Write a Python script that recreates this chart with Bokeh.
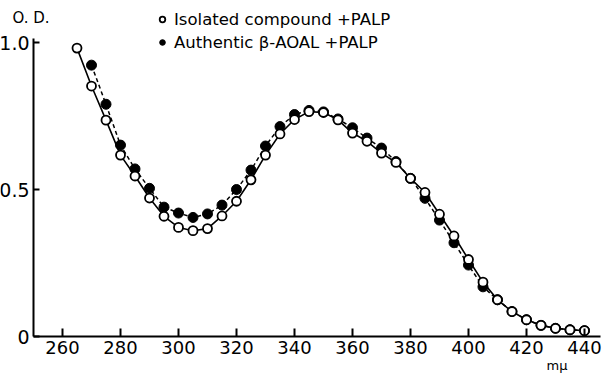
from bokeh.plotting import figure
from bokeh.models import Range1d, FixedTicker, Legend, LegendItem, Label
from bokeh.embed import file_html
from bokeh.resources import INLINE

# ---- data ----
wl_iso = list(range(265, 445, 5))
od_iso = [0.981, 0.852, 0.736, 0.617, 0.546, 0.471, 0.409, 0.371, 0.360, 0.367,
          0.410, 0.460, 0.533, 0.617, 0.689, 0.738, 0.765, 0.762, 0.737, 0.692,
          0.664, 0.624, 0.592, 0.538, 0.490, 0.416, 0.342, 0.262, 0.185, 0.125,
          0.085, 0.057, 0.038, 0.028, 0.023, 0.020]

wl_auth = list(range(270, 445, 5))
od_auth = [0.923, 0.790, 0.651, 0.570, 0.504, 0.440, 0.420, 0.405, 0.417, 0.447,
           0.500, 0.566, 0.648, 0.714, 0.755, 0.769, 0.764, 0.740, 0.710, 0.675,
           0.641, 0.595, 0.538, 0.470, 0.396, 0.319, 0.243, 0.169, 0.125, 0.085,
           0.057, 0.038, 0.028, 0.023, 0.020]

x_ticks = [260, 280, 300, 320, 340, 360, 380, 400, 420, 440]
y_ticks = [0, 0.5, 1.0]
y_tick_labels = {0: "0", 0.5: "0.5", 1: "1.0"}
label_iso = "Isolated compound +PALP"
label_auth = "Authentic \u03b2-AOAL +PALP"

FONT = "DejaVu Sans"

# frame covers the whole canvas; axes are pinned at data positions
p = figure(width=604, height=376, output_backend="svg", toolbar_location=None,
           title=None,
           x_range=Range1d(238.62, 446.9), y_range=Range1d(-0.136, 1.1429),
           min_border_left=0, min_border_right=0, min_border_top=0,
           min_border_bottom=0)
p.outline_line_color = None
p.xgrid.visible = False
p.ygrid.visible = False
p.background_fill_color = "white"
p.border_fill_color = "white"

for ax in (p.xaxis[0], p.yaxis[0]):
    ax.axis_line_width = 2
    ax.axis_line_color = "black"
    ax.major_tick_line_width = 2
    ax.major_tick_line_color = "black"
    ax.minor_tick_line_color = None
    ax.major_tick_out = 0
    ax.major_label_text_font = FONT
    ax.major_label_text_color = "black"

p.xaxis.fixed_location = 0
p.xaxis.bounds = (250, 445.5)
p.xaxis.ticker = FixedTicker(ticks=x_ticks)
p.xaxis.major_tick_in = 8
p.xaxis.major_label_text_font_size = "18px"
p.xaxis.major_label_standoff = 4

p.yaxis.fixed_location = 250
p.yaxis.bounds = (0, 1.0136)
p.yaxis.ticker = FixedTicker(ticks=y_ticks)
p.yaxis.major_label_overrides = y_tick_labels
p.yaxis.major_tick_in = 6
p.yaxis.major_label_text_font_size = "19px"
p.yaxis.major_label_standoff = 4

# curves
p.line(wl_auth, od_auth, line_color="black", line_width=1.5, line_dash="4 3")
r_auth = p.scatter(wl_auth, od_auth, marker="circle", size=10,
                   fill_color="black", line_color="black")
p.line(wl_iso, od_iso, line_color="black", line_width=1.6)
r_iso = p.scatter(wl_iso, od_iso, marker="circle", size=9,
                  fill_color="white", line_color="black", line_width=1.8)

legend = Legend(items=[LegendItem(label=label_iso, renderers=[r_iso]),
                       LegendItem(label=label_auth, renderers=[r_auth])],
                location=(155, 324), orientation="vertical",
                background_fill_alpha=0, border_line_color=None,
                padding=0, margin=0, spacing=3,
                glyph_width=14, glyph_height=20, label_height=20,
                label_standoff=5,
                label_text_font=FONT, label_text_font_size="16.5px",
                label_text_color="black")
p.add_layout(legend, "center")

p.add_layout(Label(x=12, y=350, x_units="screen", y_units="screen",
                   text="O. D.", text_font=FONT, text_font_size="15px",
                   text_color="black"))
p.add_layout(Label(x=546, y=4, x_units="screen", y_units="screen",
                   text="m\u03bc", text_font=FONT, text_font_size="13px",
                   text_color="black"))

open("out.html", "w").write(file_html(p, INLINE))
